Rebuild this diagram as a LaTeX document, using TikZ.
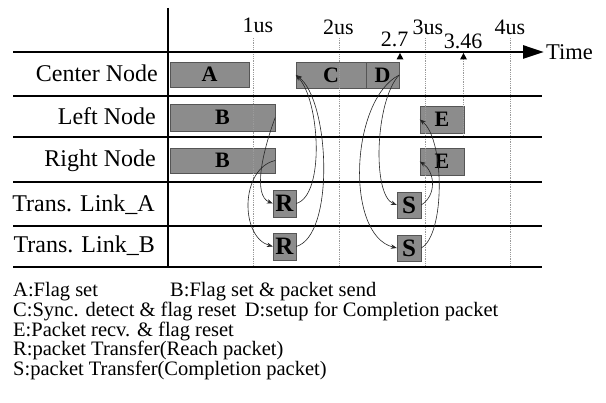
\documentclass[tikz,border=0pt]{standalone}
\usepackage{fontspec}
\setmainfont{Liberation Serif}
\usepackage{tikz}
\usetikzlibrary{arrows.meta}
\definecolor{boxgray}{HTML}{8C8C8C}
\definecolor{edgegray}{HTML}{555555}
\definecolor{gridgray}{HTML}{9A9A9A}

\begin{document}
\begin{tikzpicture}[x=1pt,y=-1pt,
  phase/.style={draw=edgegray,fill=boxgray,inner sep=0pt,font=\fontsize{22}{22}\selectfont\bfseries},
  pkt/.style={phase,minimum width=23pt,minimum height=27pt,font=\fontsize{25}{25}\selectfont\bfseries},
  rowlabel/.style={anchor=base east,inner sep=0pt,font=\fontsize{24}{26}\selectfont},
  timelabel/.style={anchor=base,inner sep=0pt,font=\fontsize{22}{24}\selectfont},
  legendtext/.style={anchor=north west,inner sep=0pt,align=left,font=\fontsize{20.5}{18}\selectfont},
  rowline/.style={line width=2.8pt},
  usline/.style={gridgray,densely dotted,line width=0.8pt},
  link/.style={black!85,line width=0.6pt,-{Stealth[length=6pt,width=4.5pt]}}]
  \useasboundingbox (0,0) rectangle (606,403);
  % time scale
  \node[timelabel] (t1) at (258,33) {1us};
  \node[timelabel] (t2) at (338.5,35) {2us};
  \node[timelabel] (t3) at (428,35) {3us};
  \node[timelabel] (t4) at (510,35) {4us};
  \node[timelabel] (t27) at (394.5,47) {2.7};
  \node[timelabel] (t346) at (463,49) {3.46};
  \node[anchor=west,inner sep=2pt,font=\fontsize{22.5}{24}\selectfont] (time) at (544,52) {Time};
  % rows
  \node[rowlabel] (center) at (158,82) {Center Node};
  \node[rowlabel] (left) at (156,125) {Left Node};
  \node[rowlabel] (right) at (156,167) {Right Node};
  \node[rowlabel] (linka) at (155,212) {Trans. Link\_A};
  \node[rowlabel] (linkb) at (155,253) {Trans. Link\_B};
  % phases
  \node[phase,minimum width=79pt,minimum height=25pt] (A) at (209.5,74.5) {A};
  \node[phase,minimum width=70pt,minimum height=26pt] (C) at (331,75) {C};
  \node[phase,minimum width=33pt,minimum height=26pt] (D) at (382.5,75) {D};
  \node[phase,minimum width=105pt,minimum height=27pt] (B1) at (222.5,117.5) {B};
  \node[phase,minimum width=105pt,minimum height=25pt] (B2) at (222.5,160.5) {B};
  \node[phase,minimum width=44pt,minimum height=27pt] (E1) at (442,119.5) {E};
  \node[phase,minimum width=44pt,minimum height=27pt] (E2) at (442,161.5) {E};
  \node[pkt] (R1) at (284.5,203.5) {R};
  \node[pkt] (R2) at (284.5,246.5) {R};
  \node[pkt,minimum width=24pt,minimum height=26pt] (S1) at (409,205) {S};
  \node[pkt,minimum width=24pt,minimum height=26pt] (S2) at (409,248) {S};
  % dotted time lines
  \draw[usline] (253,38) -- (253,267);
  \draw[usline] (339,38) -- (339,267);
  \draw[usline] (425,38) -- (425,267);
  \draw[usline] (510,38) -- (510,267);
  \draw[usline] (463.5,59) -- (463.5,137);
  % frame
  \draw[rowline] (168,8) -- (168,267);
  \draw[rowline,-{Triangle[length=21pt,width=13pt]}] (13,52) -- (time.west);
  \draw[rowline] (13,96) -- (542,96);
  \draw[rowline] (13,137) -- (542,137);
  \draw[rowline] (13,182) -- (542,182);
  \draw[rowline] (13,226) -- (542,226);
  \draw[rowline] (13,267) -- (542,267);
  \fill (400,53) -- (396.5,59.5) -- (403.5,59.5) -- cycle;
  \fill (463.5,53) -- (460,59.5) -- (467,59.5) -- cycle;
  % transfers
  \draw[link] (B1.east) .. controls +(-13,35) and +(-20,-8) .. (R1.west);
  \draw[link] (B2.east) .. controls +(-35,8) and +(-33,-10) .. (R2.west);
  \draw[link] (R1.east) .. controls +(29,-8) and +(24,25) .. (C.west);
  \draw[link] (R2.east) .. controls +(39,-11) and +(34,25) .. (C.west);
  \draw[link] (D.east) .. controls +(-24,25) and +(-25,-10) .. (S1.west);
  \draw[link] (D.east) .. controls +(-49,25) and +(-52,-13) .. (S2.west);
  \draw[link] (S1.east) .. controls +(16,-10) and +(15,10) .. (E2.west);
  \draw[link] (S2.east) .. controls +(24,-13) and +(25,20) .. (E1.west);
  % legend
  \node[legendtext] (legend) at (13,282) {\makebox[157pt][l]{A:Flag set}B:Flag set \& packet send\\
    C:Sync. detect \& flag reset\ \,D:setup for Completion packet\\
    E:Packet recv. \& flag reset\\
    R:packet Transfer(Reach packet)\\
    S:packet Transfer(Completion packet)};
\end{tikzpicture}
\end{document}
